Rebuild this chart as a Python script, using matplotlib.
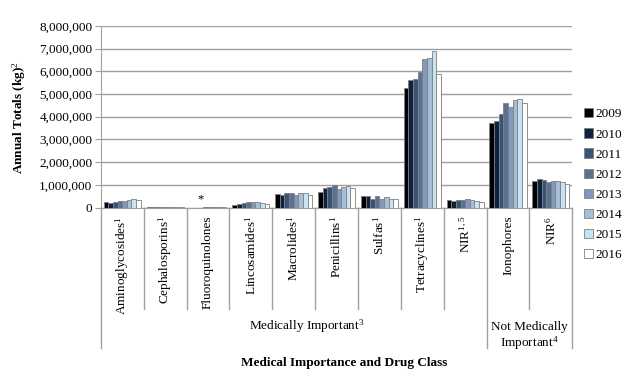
import numpy as np
import matplotlib
matplotlib.use('Agg')
import matplotlib.pyplot as plt

plt.rcParams['font.family'] = ['Liberation Serif', 'DejaVu Serif']
plt.rcParams['mathtext.fontset'] = 'custom'
plt.rcParams['mathtext.rm'] = 'Liberation Serif'
plt.rcParams['mathtext.it'] = 'Liberation Serif'
plt.rcParams['mathtext.bf'] = 'Liberation Serif:bold'

# Data (kg)
categories = ['Aminoglycosides$^1$', 'Cephalosporins$^1$', 'Fluoroquinolones',
              'Lincosamides$^1$', 'Macrolides$^1$', 'Penicillins$^1$', 'Sulfas$^1$',
              'Tetracyclines$^1$', 'NIR$^{1,5}$', 'Ionophores', 'NIR$^6$']
years = ['2009', '2010', '2011', '2012', '2013', '2014', '2015', '2016']

aminoglycosides = [260000, 220000, 230000, 290000, 290000, 330000, 380000, 320000]
cephalosporins = [30000, 30000, 30000, 35000, 35000, 35000, 35000, 30000]
fluoroquinolones = [0, 0, 0, 20000, 20000, 20000, 20000, 20000]
lincosamides = [90000, 150000, 200000, 240000, 260000, 240000, 190000, 140000]
macrolides = [590000, 570000, 630000, 650000, 570000, 630000, 640000, 570000]
penicillins = [690000, 880000, 900000, 980000, 820000, 900000, 940000, 850000]
sulfas = [510000, 510000, 380000, 500000, 380000, 450000, 390000, 370000]
tetracyclines = [5270000, 5610000, 5650000, 5970000, 6520000, 6600000, 6900000, 5870000]
nir_15 = [330000, 280000, 320000, 350000, 370000, 320000, 290000, 230000]
ionophores = [3740000, 3800000, 4120000, 4580000, 4440000, 4740000, 4770000, 4590000]
nir_6 = [1160000, 1250000, 1200000, 1140000, 1160000, 1160000, 1130000, 1030000]

values = np.array([aminoglycosides, cephalosporins, fluoroquinolones, lincosamides,
                   macrolides, penicillins, sulfas, tetracyclines, nir_15,
                   ionophores, nir_6])

colors = ['#000000', '#0c2240', '#3a5273', '#5a7290', '#8199be',
          '#a7bfd4', '#c7e4f4', '#ffffff']

fig = plt.figure(figsize=(6.38, 3.85), dpi=100)
ax = fig.add_axes([0.158, 0.461, 0.739, 0.472])

x = np.arange(len(categories))
w = 0.108
for i, yr in enumerate(years):
    ax.bar(x + (i - 3.5) * w, values[:, i], width=w, color=colors[i],
           edgecolor='#7f7f7f', linewidth=0.6, label=yr, zorder=3)

# asterisk over fluoroquinolones (not reported)
ax.text(2 + (2 - 3.5) * w, 90000, '*', ha='center', va='bottom', fontsize=9)

ax.set_xlim(-0.5, len(categories) - 0.5)
ax.set_ylim(0, 8000000)
ax.set_yticks(np.arange(0, 8000001, 1000000))
ax.set_yticklabels([f'{v:,}' for v in range(0, 8000001, 1000000)], fontsize=9.5)
ax.yaxis.grid(True, color='#a0a0a0', linewidth=1.0, zorder=0)
ax.set_axisbelow(True)
for s in ['top', 'right']:
    ax.spines[s].set_visible(False)
ax.spines['left'].set_color('#a0a0a0')
ax.spines['bottom'].set_color('#a0a0a0')
ax.tick_params(axis='y', color='#a0a0a0', length=4, pad=2)
ax.tick_params(axis='x', length=0)
ax.set_xticks([])

# category labels and separators below the axis
tr = ax.get_xaxis_transform()
for i, c in enumerate(categories):
    ax.text(i, -0.045, c, transform=tr, rotation=90, ha='center', va='top',
            fontsize=9.5)
for b in np.arange(-0.5, len(categories), 1.0):
    bottom = -0.773 if b in (-0.5, 8.5, 10.5) else -0.558
    ax.plot([b, b], [0, bottom], transform=tr, color='#a0a0a0', linewidth=1.0,
            clip_on=False)

ax.text(4.3, -0.655, 'Medically Important$^3$', transform=tr, ha='center',
        va='center', fontsize=9.5)
ax.text(9.5, -0.655, 'Not Medically', transform=tr, ha='center',
        va='center', fontsize=9.5)
ax.text(9.5, -0.745, 'Important$^4$', transform=tr, ha='center',
        va='center', fontsize=9.5)

fig.text(0.54, 0.058, 'Medical Importance and Drug Class', ha='center',
         va='center', fontsize=9.5, fontweight='bold')
fig.text(0.03, 0.695, 'Annual Totals (kg)$^2$', ha='center', va='center',
         rotation=90, fontsize=9.5, fontweight='bold')

ax.legend(loc='upper left', bbox_to_anchor=(1.024, 0.547), frameon=False,
          fontsize=9.5, handlelength=0.7, handleheight=0.7, handletextpad=0.2,
          labelspacing=0.6, borderaxespad=0, borderpad=0)

fig.savefig('out.png', dpi=100)
